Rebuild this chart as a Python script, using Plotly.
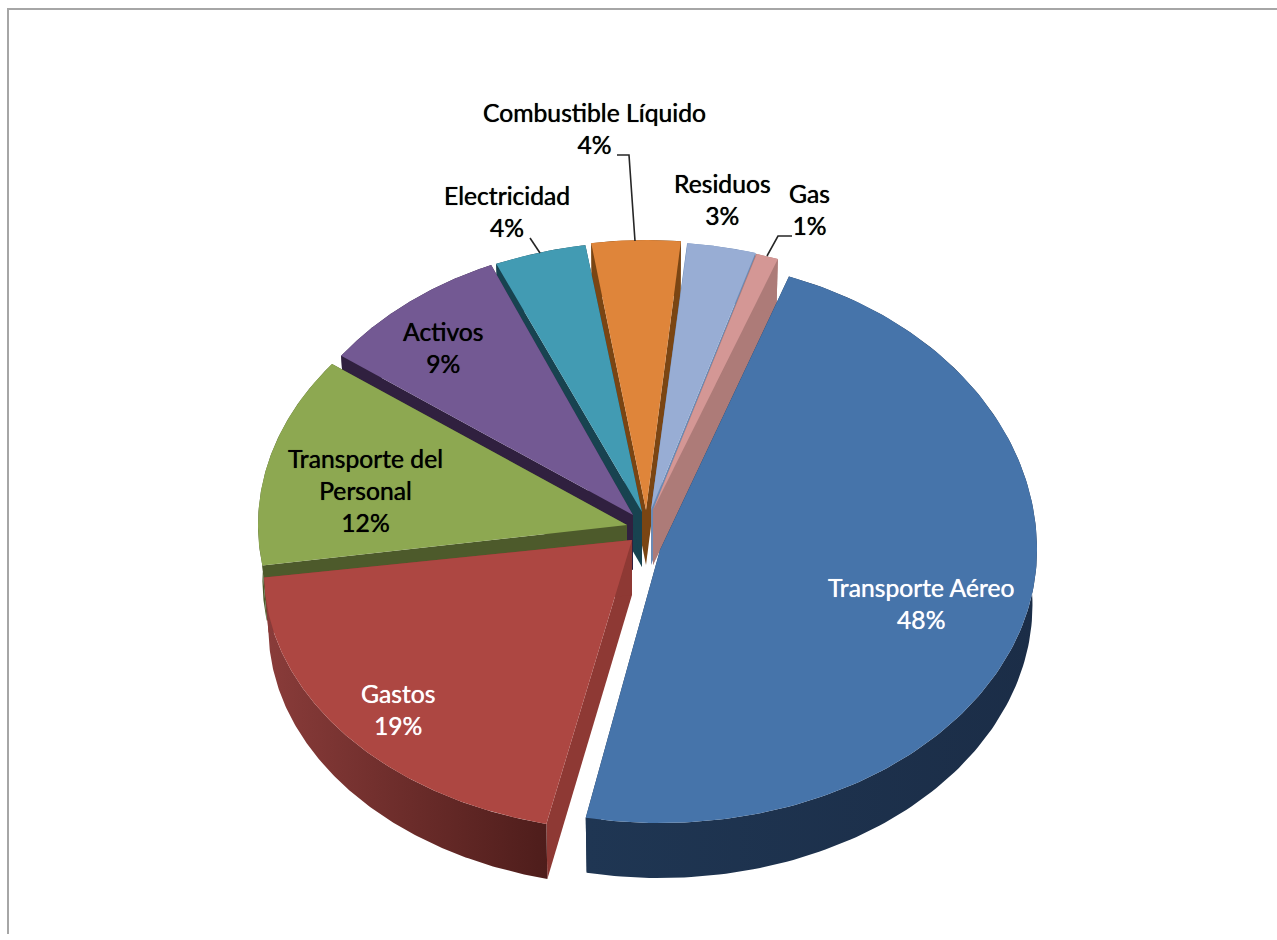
import numpy as np
import plotly.graph_objects as go

# ---- data (clockwise from the top of the "Transporte Aéreo" slice) ----
categories = ["Transporte Aéreo", "Gastos", "Transporte del Personal", "Activos",
              "Electricidad", "Combustible Líquido", "Residuos", "Gas"]
values = [47.6, 19.4, 12.4, 8.6, 4.0, 4.0, 3.0, 1.0]

# ---- styling ----
top_colors = ["#4674AA", "#AD4742", "#8DA851", "#735993", "#429BB3", "#DF853A", "#98ADD4", "#D49795"]
wall_colors = ["#1B2E47", "#8E3934", "#4D5A2B", "#30203F", "#184350", "#7A4513", "#6B8AB5", "#AD7B78"]
arc_gradients = {0: ["#1F3653", "#1B2D47"], 1: ["#8A3C3A", "#4E1D1B"]}
text_colors = ["white", "white", "black", "black", "black", "black", "black", "black"]

# ---- projection of each slice:
#      apex x, apex y, ellipse centre y, radius x, back radius y, front radius y ----
geometry = [
    (660, 550, 550, 377, 291, 273),
    (632, 540, 573, 368, 258, 258),
    (627, 525, 525, 369, 268, 265),
    (633, 515, 515, 360, 272, 272),
    (642, 512, 512, 370, 270, 270),
    (646, 510, 510, 358, 270, 270),
    (651, 510, 510, 370, 268, 268),
    (653, 510, 510, 365, 267, 267),
]
# perspective distortion of a slice's first and last edge, in degrees
start_nudge = [0, 2.1, 0, 0, 0, 0, 0, 0]
end_nudge = [0, 7.8, 1.1, 0, 0, 0, 0, 0]
label_xy = [(921, 603), (398, 709), (365, 490), (443, 347), (507, 211), (594, 128), (722, 199), (809, 209)]
depth = 55
base_shrink = 0.988   # the underside of the pie is slightly smaller in perspective
start_angle = 20.0
draw_order = [5, 6, 7, 4, 3, 2, 1, 0]

spans = np.array(values) / sum(values) * 360.0
starts = start_angle + np.concatenate([[0], np.cumsum(spans)[:-1]])


def project(i, theta):
    ax, ay, cy, rx, ryb, ryf = geometry[i]
    t = np.radians(theta)
    c = np.cos(t)
    return ax + rx * np.sin(t), cy - np.where(c > 0, ryb, ryf) * c


def polygon(fig, xs, ys, color=None, gradient=None):
    kw = dict(fillcolor=color)
    if gradient:
        kw = dict(fillgradient=dict(type="horizontal",
                                    colorscale=[[0, gradient[0]], [1, gradient[1]]]))
    fig.add_trace(go.Scatter(x=xs, y=ys, mode="lines", fill="toself", line=dict(width=0),
                             hoverinfo="skip", showlegend=False, **kw))


fig = go.Figure()
for i in draw_order:
    ax, ay = geometry[i][:2]
    thetas = np.linspace(starts[i] + start_nudge[i], starts[i] + spans[i] + end_nudge[i], 160)
    x, y = project(i, thetas)
    bx = ax + (x - ax) * base_shrink
    by = y + depth
    # flat walls along both radial edges
    for k in (0, -1):
        polygon(fig, [ax, x[k], bx[k], ax, ax], [ay, y[k], by[k], ay + depth, ay],
                color=wall_colors[i])
    # curved outer wall
    polygon(fig, np.r_[x, bx[::-1], x[0]], np.r_[y, by[::-1], y[0]],
            color=wall_colors[i], gradient=arc_gradients.get(i))
    # top surface
    polygon(fig, np.r_[ax, x, ax], np.r_[ay, y, ay], color=top_colors[i])

# leader lines
leaders = [
    ([530, 540], [238, 253]),
    ([617, 629, 635], [155, 155, 241]),
    ([792, 778, 767], [236, 236, 256]),
]
for lx, ly in leaders:
    fig.add_trace(go.Scatter(x=lx, y=ly, mode="lines", line=dict(color="#262626", width=1.6),
                             hoverinfo="skip", showlegend=False))

# labels
annotations = []
for i, cat in enumerate(categories):
    name = cat.replace("Transporte del Personal", "Transporte del<br>Personal")
    annotations.append(dict(x=label_xy[i][0], y=label_xy[i][1], xref="x", yref="y",
                            text=f"{name}<br>{round(values[i])}%", showarrow=False, align="center",
                            xanchor="center", yanchor="middle",
                            font=dict(family="Lato", size=24.7, color=text_colors[i],
                                      shadow=f"0 0 0.7px {text_colors[i]}")))

frame = dict(type="path", path="M 1277 9 L 8 9 L 8 934", xref="x", yref="y",
             line=dict(color="#A6A6A6", width=2))

fig.update_layout(
    width=1277, height=940, margin=dict(l=0, r=0, t=0, b=0),
    paper_bgcolor="white", plot_bgcolor="white", showlegend=False,
    xaxis=dict(range=[0, 1277], visible=False, fixedrange=True),
    yaxis=dict(range=[940, 0], visible=False, fixedrange=True),
    annotations=annotations, shapes=[frame],
)
fig.write_html("out.html", config={"displayModeBar": False},
               post_script="document.body.style.margin='0';document.body.style.overflow='hidden';")
